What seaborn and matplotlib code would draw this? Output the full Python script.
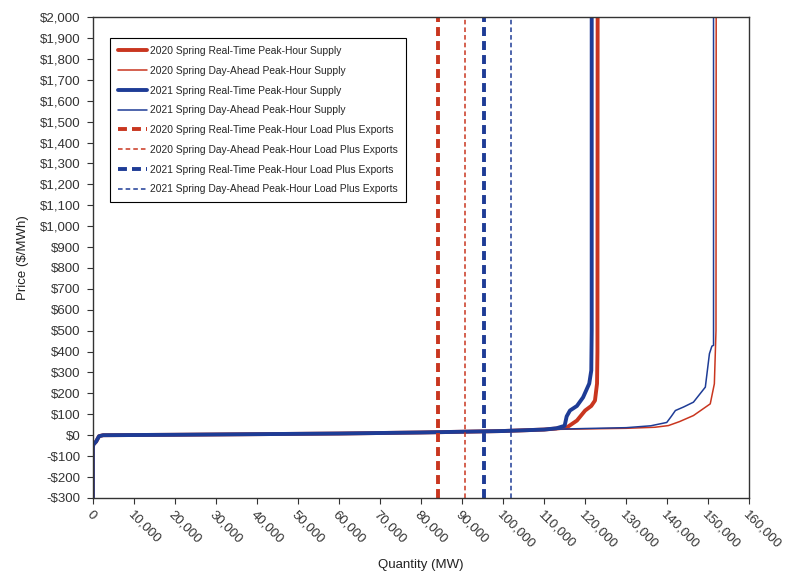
import numpy as np
import pandas as pd
import matplotlib
matplotlib.use("Agg")
import matplotlib.pyplot as plt
import seaborn as sns

# ---- data ----
# shared low part of all supply curves (MW, $/MWh)
base_qty = [0, 0, 100, 800, 1500, 2500, 20000, 40000, 60000, 80000, 100000, 110000]
base_price = [-300, -60, -45, -30, -5, 0, 2, 5, 8, 13, 20, 27]

rt2020_qty = [113000, 115600, 118000, 120000, 121500, 122400, 122900, 123000, 123050]
rt2020_price = [32, 38, 70, 118, 140, 166, 247, 400, 2100]

da2020_qty = [120000, 130000, 137000, 140300, 143000, 146400, 150500, 151500, 151900, 151950]
da2020_price = [30, 33, 38, 46, 65, 94, 150, 246, 500, 2100]

rt2021_qty = [113000, 115000, 115500, 116300, 118000, 119500, 121000, 121500, 121600, 121600]
rt2021_price = [33, 45, 90, 118, 140, 181, 247, 310, 500, 2100]

da2021_qty = [120000, 130000, 136000, 139900, 141000, 142000, 144000, 146400, 149300, 150300, 150900, 151300, 151300]
da2021_price = [32, 36, 45, 61, 90, 118, 135, 158, 230, 390, 426, 430, 2100]

# load plus exports (MW)
load_rt2020 = 84150
load_da2020 = 90650
load_rt2021 = 95400
load_da2021 = 102050

RED = "#C9361F"
BLUE = "#1E3C96"

sns.set_style("ticks")
plt.rcParams["font.family"] = ["Liberation Sans", "DejaVu Sans"]

fig = plt.figure(figsize=(7.87, 5.71), dpi=100)
ax = fig.add_axes([0.118, 0.128, 0.834, 0.842])

curves = [
    ("2020 Spring Real-Time Peak-Hour Supply", rt2020_qty, rt2020_price, RED, 2.8),
    ("2020 Spring Day-Ahead Peak-Hour Supply", da2020_qty, da2020_price, RED, 1.1),
    ("2021 Spring Real-Time Peak-Hour Supply", rt2021_qty, rt2021_price, BLUE, 2.8),
    ("2021 Spring Day-Ahead Peak-Hour Supply", da2021_qty, da2021_price, BLUE, 1.1),
]
for label, q, p, col, lw in curves:
    df = pd.DataFrame({"qty": base_qty + q, "price": base_price + p})
    sns.lineplot(data=df, x="qty", y="price", sort=False, estimator=None,
                 color=col, lw=lw, label=label, ax=ax)

loads = [
    ("2020 Spring Real-Time Peak-Hour Load Plus Exports", load_rt2020, RED, 2.8, (2.3, 1.3)),
    ("2020 Spring Day-Ahead Peak-Hour Load Plus Exports", load_da2020, RED, 1.1, (3, 2)),
    ("2021 Spring Real-Time Peak-Hour Load Plus Exports", load_rt2021, BLUE, 2.8, (2.3, 1.3)),
    ("2021 Spring Day-Ahead Peak-Hour Load Plus Exports", load_da2021, BLUE, 1.1, (3, 2)),
]
for label, x, col, lw, dash in loads:
    ax.axvline(x, color=col, lw=lw, dashes=dash, label=label)

ax.set_xlim(0, 160000)
ax.set_ylim(-300, 2000)
ax.set_xticks(np.arange(0, 160001, 10000))
ax.set_yticks(np.arange(-300, 2001, 100))
ax.set_xticklabels([f"{v:,}" for v in range(0, 160001, 10000)],
                   rotation=-45, ha="left", va="top", rotation_mode="anchor")
ax.set_yticklabels([("-" if v < 0 else "") + f"\\${abs(v):,}" for v in range(-300, 2001, 100)])
ax.tick_params(labelsize=9.5, colors="#333333", length=4, width=0.8)
ax.tick_params(axis="y", pad=5)
for s in ax.spines.values():
    s.set_color("#333333")
    s.set_linewidth(1.0)

ax.set_xlabel("Quantity (MW)", fontsize=9.5, color="#222222", labelpad=6)
ax.set_ylabel("Price (\\$/MWh)", fontsize=9.5, color="#222222", labelpad=8)

leg = ax.legend(loc="upper left", bbox_to_anchor=(0.026, 0.956), borderaxespad=0,
                fontsize=7.4, frameon=True, fancybox=False, framealpha=1,
                handlelength=2.9, handletextpad=0.25, labelspacing=0.95,
                borderpad=0.75)
leg.get_frame().set_edgecolor("black")
leg.get_frame().set_linewidth(0.8)
leg.set_zorder(10)

fig.savefig("out.png", dpi=100)
